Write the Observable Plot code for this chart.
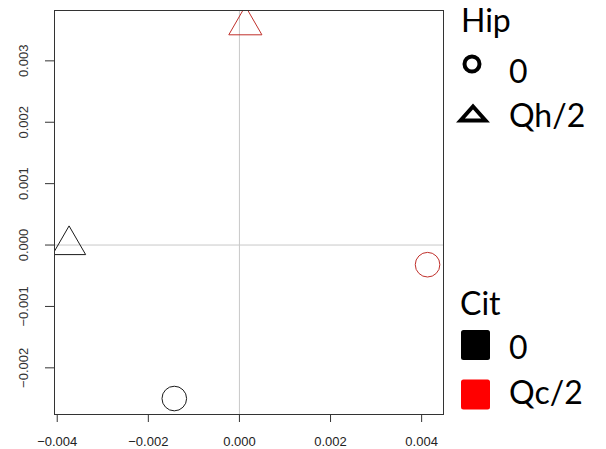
<!DOCTYPE html>
<html>
<head>
<meta charset="utf-8">
<script src="https://cdn.jsdelivr.net/npm/d3@7"></script>
<script src="https://cdn.jsdelivr.net/npm/@observablehq/plot@0.6"></script>
<style>
  html, body { margin: 0; padding: 0; background: #fff; }
  #wrap { position: relative; width: 606px; height: 449px; }
  #legend { position: absolute; left: 0; top: 0; width: 606px; height: 449px; pointer-events: none; }
</style>
</head>
<body>
<div id="wrap"></div>
<script>
// Data
const hipLevels = ["0", "Qh/2"];
const citLevels = ["0", "Qc/2"];
const pointHip = ["0", "Qh/2", "0", "Qh/2"];
const pointCit = ["0", "0", "Qc/2", "Qc/2"];
const pointX = [-0.00143, -0.00374, 0.00413, 0.00013];
const pointY = [-0.00250, 0.00000, -0.00032, 0.00358];
const xTicks = [-0.004, -0.002, 0.000, 0.002, 0.004];
const yTicks = [-0.002, -0.001, 0.000, 0.001, 0.002, 0.003];

const points = pointX.map((x, i) => ({x, y: pointY[i], hip: pointHip[i], cit: pointCit[i]}));
const hipSymbol = {"0": "circle", "Qh/2": "triangle"};
const citColor = {"0": "#1a1a1a", "Qc/2": "#c0302b"};
const fmt = d3.format(".3f");

const chart = Plot.plot({
  width: 606,
  height: 449,
  marginLeft: 54,
  marginRight: 163,
  marginTop: 10,
  marginBottom: 35,
  style: {fontFamily: "'Liberation Sans', Arial, sans-serif", fontSize: "13px", color: "#222", background: "#fff"},
  x: {domain: [-0.00406, 0.00448], label: null},
  y: {domain: [-0.00276, 0.00382], label: null},
  marks: [
    Plot.ruleX([0], {stroke: "#c8c8c8", strokeWidth: 1}),
    Plot.ruleY([0], {stroke: "#c8c8c8", strokeWidth: 1}),
    Plot.dot(points, {
      x: "x", y: "y",
      symbol: d => hipSymbol[d.hip],
      stroke: d => citColor[d.cit],
      fill: "none",
      r: 12.3,
      strokeWidth: 1,
      clip: "frame"
    }),
    Plot.frame({stroke: "#333", strokeWidth: 1}),
    Plot.axisX(xTicks, {tickSize: 8, tickPadding: 14, tickFormat: fmt, stroke: "#333", fill: "#222", label: null}),
    Plot.axisY(yTicks, {tickSize: 9, tickPadding: 18, tickFormat: fmt, tickRotate: -90, stroke: "#333", fill: "#333", label: null})
  ]
});

document.getElementById("wrap").appendChild(chart);

// Legend overlay (right side)
const leg = d3.select("#wrap").append("svg")
  .attr("id", "legend")
  .attr("width", 606).attr("height", 449)
  .style("font-family", "Lato, 'Open Sans', sans-serif");

const legFont = 32;
// Hip
leg.append("text").attr("x", 461).attr("y", 32).attr("font-size", legFont).attr("fill", "#000").text("Hip");
const hipRowsY = [64, 114];
const hipTextY = [83, 127];
hipLevels.forEach((lv, i) => {
  const cy = hipRowsY[i];
  if (lv === "0") {
    leg.append("circle").attr("cx", 472).attr("cy", cy).attr("r", 7.5)
      .attr("fill", "none").attr("stroke", "#000").attr("stroke-width", 4);
  } else {
    leg.append("path").attr("d", "M-12.5,6.5L0,-7.5L12.5,6.5Z").attr("transform", `translate(473,${cy})`)
      .attr("fill", "none").attr("stroke", "#000").attr("stroke-width", 4).attr("stroke-linejoin", "miter");
  }
  leg.append("text").attr("x", 509).attr("y", hipTextY[i]).attr("font-size", legFont).attr("fill", "#000").text(lv);
});
// Cit
leg.append("text").attr("x", 460).attr("y", 315).attr("font-size", legFont).attr("fill", "#000").text("Cit");
const citRowsY = [345, 394.5];
const citTextY = [359, 404];
const citFill = {"0": "#000", "Qc/2": "#ff0000"};
citLevels.forEach((lv, i) => {
  const cy = citRowsY[i];
  leg.append("rect").attr("x", 461).attr("y", cy - 15).attr("width", 29).attr("height", 30).attr("rx", 2.5)
    .attr("fill", citFill[lv]);
  leg.append("text").attr("x", 509).attr("y", citTextY[i]).attr("font-size", legFont).attr("fill", "#000").text(lv);
});
</script>
</body>
</html>
